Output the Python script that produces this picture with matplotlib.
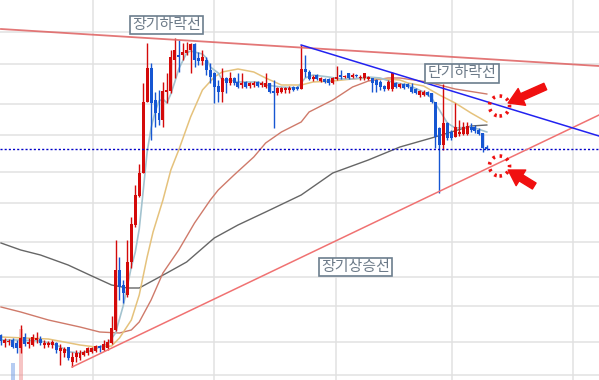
import matplotlib.pyplot as plt
from matplotlib.patches import Ellipse

plt.rcParams['font.family'] = ['Noto Sans CJK KR', 'DejaVu Sans']

# 일봉 데이터 (시가, 고가, 저가, 종가) - 그림에서 읽은 값, 단위 임의
opens = [45, 37, 38, 40, 37, 32, 43, 36, 35, 40, 41, 35, 35, 35, 37, 29, 27, 33, 18, 23,
         22, 25, 27, 28, 29, 34, 30, 32, 37, 50, 110, 95, 85, 118, 155, 184, 207, 278, 312, 280,
         267, 260, 288, 289, 320, 325, 325, 327, 330, 336, 322, 319, 320, 310, 307, 294, 288, 302, 297, 302,
         298, 295, 298, 294, 295, 298, 295, 293, 297, 289, 287, 288, 290, 290, 293, 293, 291, 311, 308, 301,
         305, 299, 301, 301, 297, 301, 305, 303, 307, 303, 305, 302, 302, 301, 302, 300, 298, 294, 291, 291,
         297, 293, 296, 296, 293, 291, 285, 285, 288, 287, 278, 252, 235, 257, 248, 243, 246, 246, 246, 253,
         253, 250, 247, 233]
highs = [46, 42, 41, 42, 40, 55, 47, 42, 46, 48, 44, 40, 39, 40, 38, 36, 33, 33, 28, 30,
         30, 30, 33, 33, 35, 35, 40, 41, 64, 140, 123, 100, 140, 163, 195, 216, 297, 337, 317, 288,
         290, 298, 307, 330, 342, 340, 337, 338, 337, 337, 328, 330, 323, 317, 308, 300, 312, 303, 308, 303,
         307, 307, 299, 298, 299, 299, 299, 307, 297, 300, 293, 293, 293, 294, 294, 294, 335, 325, 310, 305,
         306, 303, 302, 302, 303, 314, 310, 305, 307, 307, 306, 305, 307, 304, 302, 301, 300, 295, 300, 308,
         298, 297, 297, 297, 297, 292, 290, 290, 289, 287, 278, 253, 296, 258, 250, 277, 260, 258, 258, 257,
         255, 252, 247, 235]
lows = [35, 33, 35, 32, 27, 27, 34, 32, 34, 37, 35, 32, 33, 32, 27, 15, 23, 20, 13, 18,
        20, 24, 25, 27, 28, 28, 29, 30, 36, 49, 80, 77, 83, 112, 153, 183, 207, 278, 240, 253,
        255, 253, 277, 287, 302, 308, 320, 325, 307, 313, 315, 315, 305, 297, 277, 278, 278, 287, 295, 295,
        292, 292, 292, 292, 293, 293, 293, 292, 287, 252, 285, 287, 287, 287, 289, 290, 291, 303, 300, 299,
        300, 298, 297, 295, 296, 300, 301, 302, 301, 302, 303, 300, 300, 300, 288, 288, 290, 289, 290, 289,
        292, 292, 291, 292, 287, 286, 283, 284, 284, 277, 232, 187, 230, 240, 240, 243, 244, 245, 245, 248,
        247, 245, 228, 230]
closes = [39, 40, 39, 33, 32, 42, 36, 38, 43, 42, 37, 37, 37, 38, 30, 32, 31, 22, 23, 27,
          27, 28, 32, 32, 34, 32, 36, 38, 52, 110, 93, 87, 118, 156, 185, 207, 278, 312, 277, 267,
          260, 289, 290, 323, 330, 323, 328, 330, 336, 320, 319, 323, 310, 303, 293, 288, 302, 297, 302, 297,
          293, 297, 293, 297, 297, 294, 297, 297, 288, 287, 292, 292, 292, 292, 290, 291, 311, 308, 301, 303,
          301, 302, 298, 297, 302, 303, 303, 304, 302, 305, 304, 303, 307, 303, 297, 295, 293, 291, 298, 307,
          293, 296, 292, 293, 288, 287, 289, 288, 285, 278, 243, 235, 257, 242, 242, 253, 248, 253, 254, 250,
          249, 246, 232, 231]

# 거래량 (하단에 일부만 보임)
vol_idx = [3, 5]
vol_val = [17, 51]

# 이동평균선 (그림에서 읽은 점)
ma5_x = [0, 5, 10, 14, 17.5, 20, 22.5, 25, 27, 29, 31, 33, 34, 35, 36, 37, 38, 39, 40, 41,
         42, 43, 44, 45, 46, 47, 48, 50, 51, 52, 53, 55, 56, 58, 60, 65, 67, 71, 75, 77,
         79, 83, 86, 89, 93, 96, 99, 103, 107, 109, 111, 113, 115, 119, 120, 123]
ma5_y = [40, 40, 39, 35, 28, 27, 29, 33, 36, 47, 75, 113, 128, 151, 189, 228, 252, 268, 279, 281,
         277, 286, 298, 311, 319, 327, 329, 327, 326, 322, 313, 307, 300, 300, 298, 298, 295, 293, 292, 302,
         305, 303, 301, 301, 303, 302, 298, 295, 288, 282, 270, 257, 252, 253, 252, 248]
ma20_x = [0, 12, 20, 24, 28, 30, 33, 35, 37, 38.5, 41, 43, 45, 48, 51, 54, 56, 60, 64, 67,
          71, 76, 79, 84, 89, 93, 97, 101, 103, 107, 111, 115, 119, 123]
ma20_y = [43, 41, 35, 33, 34, 42, 60, 85, 123, 148, 180, 210, 230, 263, 290, 303, 308, 311, 308, 302,
          295, 295, 298, 299, 301, 302, 301, 300, 297, 294, 285, 277, 267, 258]
ma60_x = [0, 5, 12, 20, 25, 30, 33, 35, 38, 41, 45, 49, 53, 55, 59, 64, 67, 71, 76, 78,
          84, 89, 93, 98, 101, 108, 115, 123]
ma60_y = [73, 68, 60, 53, 48, 47, 50, 58, 80, 107, 130, 157, 180, 190, 205, 223, 237, 248, 258, 268,
          280, 293, 299, 302, 302, 298, 291, 286]
ma120_x = [0, 5, 10, 17, 23, 28, 32, 35, 42, 47, 54, 60, 67, 76, 84, 93, 101, 109, 114, 119, 123]
ma120_y = [137, 130, 125, 115, 104, 95, 92, 92, 107, 118, 142, 155, 168, 185, 207, 220, 233, 242, 248, 254, 255]

# 추세선 (시작점, 끝점)
long_down = [(0, 351), (151.4, 314)]
long_up = [(18, 13), (151.4, 265)]
short_down = [(76, 335), (151.4, 244)]

grid_y = [348, 316, 276, 245, 208, 177, 138, 103, 74, 38, 5]
grid_x = [23.3, 53.9, 84.8, 114.2, 144.8]

UP = '#d40a0a'
DOWN = '#1656d2'

fig = plt.figure(figsize=(5.99, 3.80), dpi=100)
ax = fig.add_axes([0, 0, 1, 1])
ax.set_xlim(-0.25, 151.4)
ax.set_ylim(0, 380)
for s in ax.spines.values():
    s.set_visible(False)
ax.set_xticks(grid_x)
ax.set_yticks(grid_y)
ax.tick_params(length=0, labelleft=False, labelbottom=False)
ax.grid(True, color='#e1e1e1', lw=1.1, zorder=0)
ax.set_axisbelow(True)

# 거래량
ax.bar(vol_idx, vol_val, width=0.9, color=['#6f9be6', '#ee8a8a'], alpha=0.5, zorder=1)

# 이동평균선
ax.plot(ma120_x, ma120_y, color='#666666', lw=1.0, zorder=2)
ax.plot(ma60_x, ma60_y, color='#cf7a6a', lw=1.0, zorder=2)
ax.plot(ma20_x, ma20_y, color='#e5c27c', lw=1.1, zorder=2)
ax.plot(ma5_x, ma5_y, color='#a3c3cf', lw=1.2, zorder=2)

# 캔들
idx = list(range(len(closes)))
colors = [UP if c >= o else DOWN for o, c in zip(opens, closes)]
ax.vlines(idx, lows, highs, colors=colors, lw=1.0, zorder=3)
bottoms = [min(o, c) for o, c in zip(opens, closes)]
heights = [max(abs(c - o), 1.2) for o, c in zip(opens, closes)]
ax.bar(idx, heights, bottom=bottoms, width=0.75, color=colors, lw=0, zorder=3)

# 현재가 점선
ax.axhline(closes[-1], color='#0000c8', lw=1.0, ls=(0, (1.5, 1.5)), zorder=3)

# 추세선
ax.plot(*zip(*long_down), color='#e06868', lw=1.3, alpha=0.9, zorder=4)
ax.plot(*zip(*long_up), color='#f07272', lw=1.1, zorder=4)
ax.plot(*zip(*short_down), color='#2222f0', lw=1.1, zorder=4)

box = dict(boxstyle='square,pad=0.15', fc='white', ec='#6c7e8e', lw=1.2)
ax.text(41.9, 355, '장기하락선', color='#6c7a88', fontsize=10.8, ha='center', va='center', bbox=box, zorder=6)
ax.text(116.7, 306.5, '단기하락선', color='#6c7a88', fontsize=10.8, ha='center', va='center', bbox=box, zorder=6)
ax.text(89.8, 113, '장기상승선', color='#6c7a88', fontsize=10.8, ha='center', va='center', bbox=box, zorder=6)

# 점선 원 + 화살표
for cy in [274, 214]:
    ax.add_patch(Ellipse((126.2, cy), 5.1, 20, fill=False, ec='#ee1111', lw=2.6,
                         ls=(0, (0.7, 1.3)), zorder=7))
arrow = dict(arrowstyle='simple,head_length=0.9,head_width=1.1,tail_width=0.42',
             color='#f01010', mutation_scale=12, shrinkA=0, shrinkB=0)
ax.annotate('', xy=(128.4, 277), xytext=(137.8, 293.5), arrowprops=arrow, zorder=7)
ax.annotate('', xy=(128.4, 210), xytext=(135, 194), arrowprops=arrow, zorder=7)

fig.savefig('out.png', dpi=100)
